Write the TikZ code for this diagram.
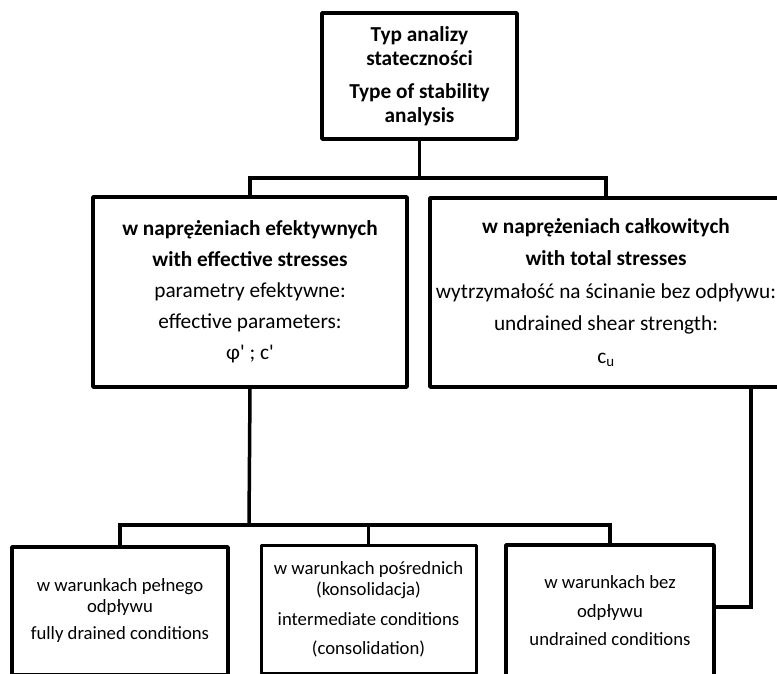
\documentclass[tikz,border=0pt]{standalone}
\usepackage{fontspec}
\setmainfont{Carlito}
\tikzset{
  every node/.style={font=\fontsize{18.7}{23}\selectfont}
}

\begin{document}
\begin{tikzpicture}[x=1pt, y=-1pt]
  % Define styles for boxes and connectors
  \tikzset{
    box/.style={
      draw,
      rectangle,
      fill=white,
      align=center,
      inner sep=0pt,
      line width=3.5pt,
      line join=round
    },
    bigbox/.style={
      box,
      font=\fontsize{21.3}{26}\selectfont
    },
    link/.style={
      draw,
      line width=3.5pt
    }
  }
  \useasboundingbox (0,0) rectangle (777,673);
  \clip (0,0) rectangle (777,673);

  % Top box
  \node[bigbox, font=\fontsize{21.3}{24}\selectfont, minimum width=195pt, minimum height=126pt] (typ) at (419.5,76)
    {\textbf{Typ analizy}\\\textbf{stateczności}\\[9pt]\textbf{Type of stability}\\\textbf{analysis}};

  % Middle row
  \node[bigbox, minimum width=314pt, minimum height=190pt] (eff) at (250,292)
    {\textbf{w naprężeniach efektywnych}\\[5pt]\textbf{with effective stresses}\\[5pt]parametry efektywne:\\[5pt]effective parameters:\\[5pt]φ\textquotesingle{} ; c\textquotesingle};
  \node[bigbox, minimum width=352pt, minimum height=189pt] (tot) at (606,292.5)
    {\textbf{w naprężeniach całkowitych}\\[6.5pt]\textbf{with total stresses}\\[6.5pt]wytrzymałość na ścinanie bez odpływu:\\[6.5pt]undrained shear strength:\\[6.5pt]c\textsubscript{u}};

  % Bottom row (cut off by the page edge)
  \node[box, minimum width=216pt, minimum height=128pt] (drained) at (120,611)
    {w warunkach pełnego\\[-2pt]odpływu\\[4pt]fully drained conditions};
  \node[box, minimum width=215pt, minimum height=128pt, line width=3pt] (inter) at (368.5,609)
    {w warunkach pośrednich\\[-2pt](konsolidacja)\\[7pt]intermediate conditions\\[6pt](consolidation)};
  \node[box, minimum width=208pt, minimum height=132pt] (undrained) at (610,611)
    {w warunkach bez\\[6pt]odpływu\\[5pt]undrained conditions};

  % Connectors
  \coordinate (split) at (419.5,178);
  \coordinate (split2) at (249,525);
  \draw[link] (typ.south) -- (split);
  \draw[link] (split) -| (eff.north);
  \draw[link] (split) -| (tot.north);
  \draw[link] (eff.south) -- (split2);
  \foreach \b in {drained,inter,undrained} {
    \draw[link] (split2) -| (\b.north);
  }
  \draw[link] ([xshift=145pt]tot.south) |- ([yshift=4pt]undrained.east);
\end{tikzpicture}
\end{document}
